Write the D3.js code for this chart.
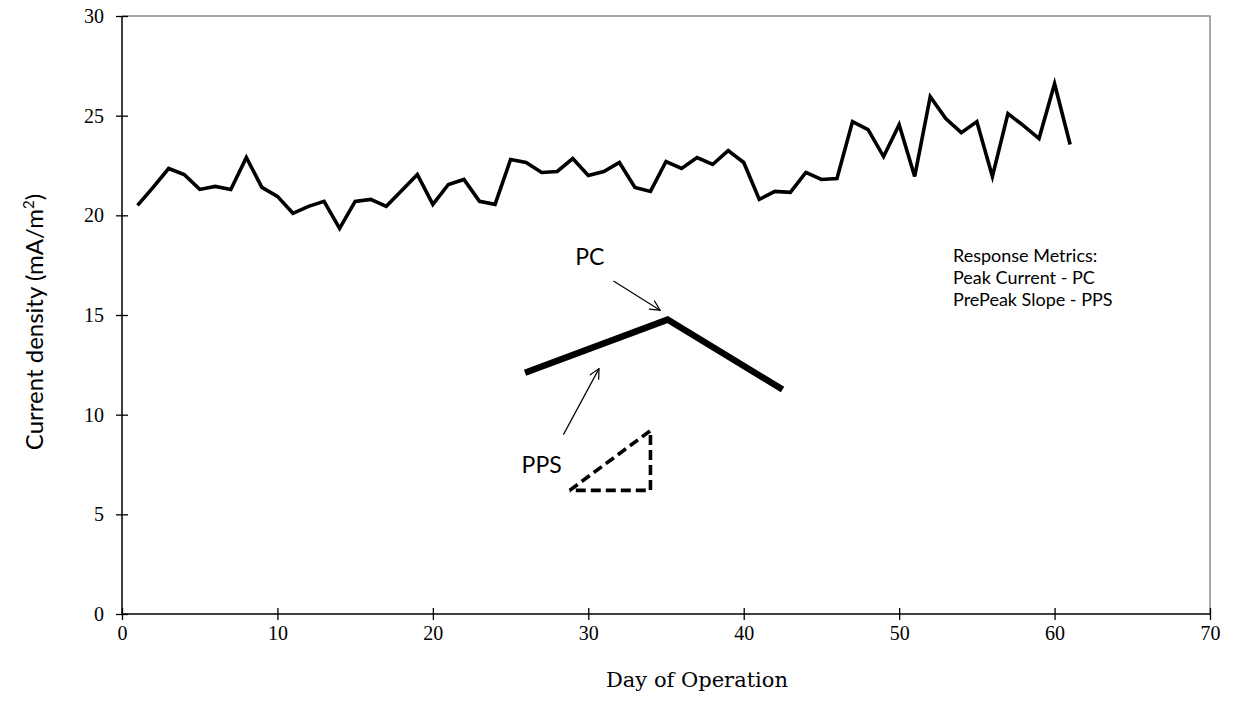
<!DOCTYPE html>
<html>
<head>
<meta charset="utf-8">
<script src="https://cdn.jsdelivr.net/npm/d3@7"></script>
<style>
  html, body { margin: 0; padding: 0; background: #fff; }
  svg { display: block; }
</style>
</head>
<body>
<svg id="chart" width="1235" height="702"></svg>
<script>
// Daily current density over the run (day, mA/m2)
const days = d3.range(1, 62);
const currentDensity = [
  20.5, 21.4, 22.35, 22.05, 21.3, 21.45, 21.3, 22.9, 21.4, 20.95,
  20.1, 20.45, 20.7, 19.35, 20.7, 20.8, 20.45, 21.25, 22.05, 20.55,
  21.55, 21.8, 20.7, 20.55, 22.8, 22.65, 22.15, 22.2, 22.85, 22.0,
  22.2, 22.65, 21.4, 21.2, 22.7, 22.35, 22.9, 22.55, 23.25, 22.65,
  20.8, 21.2, 21.15, 22.15, 21.8, 21.85, 24.7, 24.3, 22.95, 24.55,
  21.95, 25.95, 24.85, 24.15, 24.7, 21.95, 25.1, 24.5, 23.85, 26.6,
  23.55
];

// Axis ticks
const xTicks = [0, 10, 20, 30, 40, 50, 60, 70];
const yTicks = [0, 5, 10, 15, 20, 25, 30];

// Schematic of a single response curve (day, mA/m2)
const schematicCurve = [[25.93, 12.1], [35.1, 14.77], [42.5, 11.26]];
// Slope triangle under the rising limb
const slopeTriangle = [[28.8, 6.2], [34.0, 9.2], [34.0, 6.2], [28.8, 6.2]];
// Annotation arrows: [from, to]
const pcArrow = [[31.62, 16.7], [34.62, 15.24]];
const ppsArrow = [[28.4, 9.0], [30.69, 12.31]];
// Annotation labels
const pcLabel = { text: "PC", at: [30.1, 17.9] };
const ppsLabel = { text: "PPS", at: [27.0, 7.5] };
const metricsLines = ["Response Metrics:", "Peak Current - PC", "PrePeak Slope - PPS"];

const W = 1235, H = 702;
const margin = { top: 16, right: 25, bottom: 88, left: 122 };

const svg = d3.select("#chart");

const x = d3.scaleLinear().domain([0, 70]).range([margin.left, W - margin.right]);
const y = d3.scaleLinear().domain([0, 30]).range([H - margin.bottom, margin.top]);

const serif = "'Liberation Serif', 'DejaVu Serif', serif";
const sans = "Lato, 'Open Sans', 'Noto Sans', sans-serif";

// Plot-area frame (top and right edges)
svg.append("path")
  .attr("d", `M${x(0)},${y(30)}H${x(70)}V${y(0)}`)
  .attr("fill", "none")
  .attr("stroke", "#8c8c8c")
  .attr("stroke-width", 1.5);

// X axis with ticks crossing the line
const xAxis = svg.append("g")
  .attr("transform", `translate(0,${y(0)})`)
  .call(d3.axisBottom(x).tickValues(xTicks).tickSize(6).tickPadding(0).tickFormat(d3.format("d")));
xAxis.select(".domain").attr("stroke", "#000").attr("stroke-width", 1.5).attr("d", `M${x(0)},0H${x(70)}`);
xAxis.selectAll(".tick line").attr("y1", -6).attr("y2", 6).attr("stroke", "#000").attr("stroke-width", 1.3);
xAxis.selectAll(".tick text")
  .attr("y", 26).attr("dy", null)
  .style("font-family", serif).style("font-size", "20px").attr("fill", "#000");

// Y axis with ticks crossing the line
const yAxis = svg.append("g")
  .attr("transform", `translate(${x(0)},0)`)
  .call(d3.axisLeft(y).tickValues(yTicks).tickSize(6).tickPadding(0).tickFormat(d3.format("d")));
yAxis.select(".domain").attr("stroke", "#000").attr("stroke-width", 1.5).attr("d", `M0,${y(0)}V${y(30)}`);
yAxis.selectAll(".tick line").attr("x1", -6).attr("x2", 6).attr("stroke", "#000").attr("stroke-width", 1.3);
yAxis.selectAll(".tick text")
  .attr("x", -18).attr("dy", "0.33em")
  .style("font-family", serif).style("font-size", "20px").attr("fill", "#000");

// Axis titles
svg.append("text")
  .attr("x", 697).attr("y", 687)
  .attr("text-anchor", "middle")
  .style("font-family", "'DejaVu Serif', 'Liberation Serif', serif").style("font-size", "21px")
  .text("Day of Operation");

const yTitle = svg.append("text")
  .attr("transform", `translate(43,${322}) rotate(-90)`)
  .attr("text-anchor", "middle")
  .style("font-family", sans).style("font-size", "24px");
yTitle.append("tspan").text("Current density (mA/m");
yTitle.append("tspan").attr("dy", -9).style("font-size", "15px").text("2");
yTitle.append("tspan").attr("dy", 9).text(")");

// Daily current density series
const line = d3.line().x((d, i) => x(days[i])).y(d => y(d));
svg.append("path")
  .datum(currentDensity)
  .attr("d", line)
  .attr("fill", "none")
  .attr("stroke", "#000")
  .attr("stroke-width", 3.6)
  .attr("stroke-linejoin", "miter");

// Schematic response curve
const pLine = d3.line().x(d => x(d[0])).y(d => y(d[1]));
svg.append("path")
  .datum(schematicCurve)
  .attr("d", pLine)
  .attr("fill", "none")
  .attr("stroke", "#000")
  .attr("stroke-width", 6.5)
  .attr("stroke-linejoin", "miter");

// Dashed slope triangle
svg.append("path")
  .datum(slopeTriangle)
  .attr("d", pLine)
  .attr("fill", "none")
  .attr("stroke", "#000")
  .attr("stroke-width", 3.6)
  .attr("stroke-dasharray", "10,5");

// Open arrowhead marker
svg.append("defs").append("marker")
  .attr("id", "openArrow")
  .attr("viewBox", "0 0 12 12")
  .attr("refX", 11).attr("refY", 6)
  .attr("markerWidth", 12).attr("markerHeight", 12)
  .attr("markerUnits", "userSpaceOnUse")
  .attr("orient", "auto")
  .append("path")
  .attr("d", "M1,1L11,6L1,11")
  .attr("fill", "none")
  .attr("stroke", "#000")
  .attr("stroke-width", 1.2);

[pcArrow, ppsArrow].forEach(a => {
  svg.append("path")
    .datum(a)
    .attr("d", pLine)
    .attr("fill", "none")
    .attr("stroke", "#000")
    .attr("stroke-width", 1.2)
    .attr("marker-end", "url(#openArrow)");
});

// Annotation labels
[pcLabel, ppsLabel].forEach(l => {
  svg.append("text")
    .attr("x", x(l.at[0])).attr("y", y(l.at[1]))
    .attr("dy", "0.35em")
    .attr("text-anchor", "middle")
    .style("font-family", sans).style("font-size", "23px")
    .text(l.text);
});

// Metrics key
svg.append("g")
  .selectAll("text")
  .data(metricsLines)
  .join("text")
  .attr("x", 953)
  .attr("y", (d, i) => 262 + i * 22)
  .style("font-family", sans).style("font-size", "18px")
  .text(d => d);
</script>
</body>
</html>
